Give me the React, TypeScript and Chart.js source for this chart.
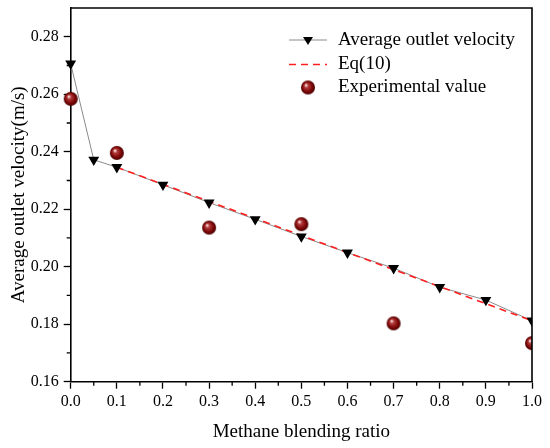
import { useEffect, useRef } from 'react';
import { Chart, registerables } from 'chart.js';

Chart.register(...registerables);

// simulated average outlet velocity (m/s) vs methane blending ratio
const blendRatio = [0, 0.05, 0.1, 0.2, 0.3, 0.4, 0.5, 0.6, 0.7, 0.8, 0.9, 1.0];
const outletVelocity = [
  0.2706, 0.2372, 0.2346, 0.2285, 0.2223, 0.2165, 0.2105, 0.2049, 0.1995, 0.1929, 0.1884, 0.1812,
];
// Eq(10) fitted line
const eqRatio = [0.1, 1.0];
const eqVelocity = [0.2346, 0.1812];
// experimental values
const expRatio = [0, 0.1, 0.3, 0.5, 0.7, 1.0];
const expVelocity = [0.2584, 0.2396, 0.2136, 0.2148, 0.1803, 0.1734];

const legendLabels = ['Average outlet velocity', 'Eq(10)', 'Experimental value'];
const xMinorTicks = [0.05, 0.15, 0.25, 0.35, 0.45, 0.55, 0.65, 0.75, 0.85, 0.95];
const yMinorTicks = [0.17, 0.19, 0.21, 0.23, 0.25, 0.27];

const FONT = '"Liberation Serif", "Times New Roman", serif';

// shaded sphere marker
const makeSphere = (r: number) => {
  const c = document.createElement('canvas');
  const s = r * 2 + 2;
  c.width = s;
  c.height = s;
  const g = c.getContext('2d')!;
  const cx = s / 2;
  const grad = g.createRadialGradient(cx - r * 0.3, cx - r * 0.35, 0.5, cx, cx, r);
  grad.addColorStop(0, '#f6dcdc');
  grad.addColorStop(0.25, '#b23a3a');
  grad.addColorStop(0.7, '#7c0606');
  grad.addColorStop(1, '#4a0000');
  g.fillStyle = grad;
  g.beginPath();
  g.arc(cx, cx, r, 0, Math.PI * 2);
  g.fill();
  return c;
};

const toPoints = (xs: number[], ys: number[]) => xs.map((x, i) => ({ x, y: ys[i] }));

const App = () => {
  const canvasRef = useRef<HTMLCanvasElement | null>(null);

  useEffect(() => {
    document.body.style.margin = '0';
    const canvas = canvasRef.current;
    if (!canvas) return;
    const sphere = makeSphere(7);

    // frame, minor ticks and the legend box
    const extras = {
      id: 'extras',
      afterDraw: (chart: Chart) => {
        const { ctx, chartArea } = chart;
        const xs = chart.scales.x;
        const ys = chart.scales.y;
        ctx.save();
        ctx.strokeStyle = '#000';
        ctx.lineWidth = 1.6;
        ctx.beginPath();
        ctx.moveTo(chartArea.left, chartArea.top);
        ctx.lineTo(chartArea.right, chartArea.top);
        ctx.lineTo(chartArea.right, chartArea.bottom);
        ctx.stroke();
        ctx.lineWidth = 1.3;
        ctx.beginPath();
        xMinorTicks.forEach((v) => {
          const px = xs.getPixelForValue(v);
          ctx.moveTo(px, chartArea.bottom);
          ctx.lineTo(px, chartArea.bottom + 4);
        });
        yMinorTicks.forEach((v) => {
          const py = ys.getPixelForValue(v);
          ctx.moveTo(chartArea.left, py);
          ctx.lineTo(chartArea.left - 4, py);
        });
        ctx.stroke();

        // legend
        const lx = chartArea.right - 243;
        const rows = [chartArea.top + 32, chartArea.top + 56.5, chartArea.top + 79.5];
        const mid = lx + 19;
        ctx.lineWidth = 1;
        ctx.strokeStyle = '#8a8a8a';
        ctx.beginPath();
        ctx.moveTo(lx, rows[0]);
        ctx.lineTo(lx + 38, rows[0]);
        ctx.stroke();
        ctx.fillStyle = '#000';
        ctx.beginPath();
        ctx.moveTo(mid - 5, rows[0] - 3);
        ctx.lineTo(mid + 5, rows[0] - 3);
        ctx.lineTo(mid, rows[0] + 5);
        ctx.closePath();
        ctx.fill();
        ctx.strokeStyle = '#ff2020';
        ctx.lineWidth = 1.6;
        ctx.setLineDash([7, 5]);
        ctx.beginPath();
        ctx.moveTo(lx, rows[1]);
        ctx.lineTo(lx + 38, rows[1]);
        ctx.stroke();
        ctx.setLineDash([]);
        ctx.drawImage(sphere, mid - sphere.width / 2, rows[2] - sphere.height / 2);
        ctx.font = '19px ' + FONT;
        ctx.fillStyle = '#000';
        ctx.textBaseline = 'middle';
        ctx.textAlign = 'left';
        legendLabels.forEach((t, i) => ctx.fillText(t, lx + 49, rows[i]));
        ctx.restore();
      },
    };

    const chart = new Chart(canvas, {
      type: 'scatter',
      data: {
        datasets: [
          {
            label: legendLabels[0] + ' markers',
            data: toPoints(blendRatio, outletVelocity),
            showLine: false,
            pointStyle: 'triangle',
            rotation: 180,
            pointRadius: 6.3,
            pointHoverRadius: 6.3,
            backgroundColor: '#000',
            borderColor: '#000',
            borderWidth: 0,
            order: 2,
            clip: { left: 8, right: 0, top: 0, bottom: 0 },
          },
          {
            label: legendLabels[0],
            data: toPoints(blendRatio, outletVelocity),
            showLine: true,
            borderColor: '#8a8a8a',
            borderWidth: 1,
            pointRadius: 0,
            order: 4,
          },
          {
            label: legendLabels[1],
            data: toPoints(eqRatio, eqVelocity),
            showLine: true,
            borderColor: '#ff2020',
            borderWidth: 1.6,
            borderDash: [7, 5],
            pointRadius: 0,
            order: 3,
          },
          {
            label: legendLabels[2],
            data: toPoints(expRatio, expVelocity),
            showLine: false,
            pointStyle: sphere,
            pointRadius: 7,
            order: 1,
            clip: { left: 8, right: 0, top: 0, bottom: 0 },
          },
        ],
      },
      options: {
        animation: false,
        responsive: true,
        maintainAspectRatio: false,
        layout: { padding: { top: 8, right: 18, left: 0, bottom: 0 } },
        plugins: { legend: { display: false }, tooltip: { enabled: false } },
        scales: {
          x: {
            type: 'linear',
            min: 0,
            max: 1,
            afterFit: (s: any) => {
              s.height = 66.3;
              s.paddingLeft = 0;
              s.paddingRight = 0;
              s.paddingTop = 0;
              s.paddingBottom = 0;
            },
            ticks: {
              stepSize: 0.1,
              padding: 3,
              color: '#000',
              font: { family: FONT, size: 16 },
              callback: (v: any) => Number(v).toFixed(1),
            },
            grid: {
              drawOnChartArea: false,
              tickLength: 7,
              tickColor: '#000',
              tickWidth: 1.3,
            },
            border: { color: '#000', width: 1.6 },
            title: {
              display: true,
              text: 'Methane blending ratio',
              color: '#000',
              font: { family: FONT, size: 19 },
              padding: { top: 0, bottom: 5 },
            },
          },
          y: {
            type: 'linear',
            min: 0.16,
            max: 0.29,
            afterFit: (s: any) => {
              s.width = 70.7;
              s.paddingLeft = 0;
              s.paddingRight = 0;
              s.paddingTop = 0;
              s.paddingBottom = 0;
            },
            ticks: {
              stepSize: 0.02,
              includeBounds: false,
              padding: 5,
              color: '#000',
              font: { family: FONT, size: 16 },
              callback: (v: any) => Number(v).toFixed(2),
            },
            grid: {
              drawOnChartArea: false,
              tickLength: 7,
              tickColor: '#000',
              tickWidth: 1.3,
            },
            border: { color: '#000', width: 1.6 },
            title: {
              display: true,
              text: 'Average outlet velocity(m/s)',
              color: '#000',
              font: { family: FONT, size: 19 },
              padding: { top: 8, bottom: 0 },
            },
          },
        },
      },
      plugins: [extras],
    });

    return () => {
      chart.destroy();
    };
  }, []);

  return (
    <div style={{ width: 550, height: 448, position: 'relative', background: '#fff' }}>
      <canvas ref={canvasRef} />
    </div>
  );
};

export default App;
